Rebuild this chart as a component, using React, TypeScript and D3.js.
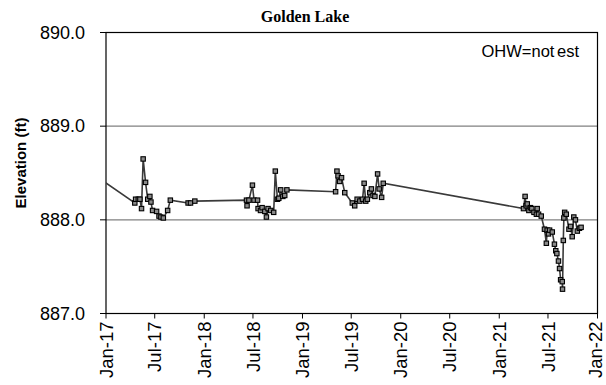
import React from "react";
import * as d3 from "d3";

// Lake elevation readings (ft), grouped by survey season.
const readings2017: [string, number][] = [
  ["2016-10-15", 888.55],
  ["2017-04-18", 888.18],
  ["2017-04-21", 888.22],
  ["2017-05-01", 888.22],
  ["2017-05-07", 888.22],
  ["2017-05-13", 888.12],
  ["2017-05-19", 888.65],
  ["2017-05-28", 888.4],
  ["2017-06-05", 888.22],
  ["2017-06-13", 888.25],
  ["2017-06-17", 888.19],
  ["2017-06-23", 888.1],
  ["2017-07-08", 888.09],
  ["2017-07-17", 888.04],
  ["2017-07-24", 888.03],
  ["2017-08-02", 888.02],
  ["2017-08-18", 888.1],
  ["2017-08-28", 888.21],
  ["2017-11-02", 888.18],
  ["2017-11-11", 888.18],
  ["2017-11-27", 888.2],
];

const readings2018: [string, number][] = [
  ["2018-06-07", 888.21],
  ["2018-06-09", 888.15],
  ["2018-06-16", 888.21],
  ["2018-06-29", 888.37],
  ["2018-07-05", 888.21],
  ["2018-07-18", 888.21],
  ["2018-07-20", 888.12],
  ["2018-07-29", 888.1],
  ["2018-08-04", 888.13],
  ["2018-08-14", 888.09],
  ["2018-08-20", 888.03],
  ["2018-08-26", 888.12],
  ["2018-09-05", 888.1],
  ["2018-09-16", 888.08],
  ["2018-09-22", 888.52],
  ["2018-09-30", 888.22],
  ["2018-10-05", 888.23],
  ["2018-10-12", 888.32],
  ["2018-10-20", 888.25],
  ["2018-10-27", 888.26],
  ["2018-11-04", 888.32],
];

const readings2019: [string, number][] = [
  ["2019-05-04", 888.3],
  ["2019-05-09", 888.52],
  ["2019-05-13", 888.47],
  ["2019-05-19", 888.41],
  ["2019-05-26", 888.45],
  ["2019-06-07", 888.29],
  ["2019-07-05", 888.18],
  ["2019-07-14", 888.15],
  ["2019-07-23", 888.22],
  ["2019-08-02", 888.2],
  ["2019-08-12", 888.22],
  ["2019-08-18", 888.39],
  ["2019-08-24", 888.2],
  ["2019-08-30", 888.22],
  ["2019-09-08", 888.29],
  ["2019-09-14", 888.33],
  ["2019-09-20", 888.26],
  ["2019-09-27", 888.25],
  ["2019-10-07", 888.49],
  ["2019-10-13", 888.33],
  ["2019-10-22", 888.24],
  ["2019-10-28", 888.39],
];

const readings2021: [string, number][] = [
  ["2021-04-01", 888.12],
  ["2021-04-07", 888.25],
  ["2021-04-11", 888.15],
  ["2021-04-15", 888.17],
  ["2021-04-21", 888.1],
  ["2021-04-27", 888.13],
  ["2021-05-02", 888.12],
  ["2021-05-10", 888.08],
  ["2021-05-19", 888.06],
  ["2021-05-22", 888.12],
  ["2021-05-27", 888.06],
  ["2021-06-06", 888.04],
  ["2021-06-18", 887.9],
  ["2021-06-25", 887.75],
  ["2021-06-28", 887.89],
  ["2021-07-03", 887.85],
  ["2021-07-07", 887.89],
  ["2021-07-17", 887.87],
  ["2021-07-25", 887.74],
  ["2021-07-30", 887.67],
  ["2021-08-03", 887.64],
  ["2021-08-09", 887.56],
  ["2021-08-13", 887.48],
  ["2021-08-17", 887.36],
  ["2021-08-23", 887.34],
  ["2021-08-24", 887.26],
  ["2021-08-27", 887.78],
  ["2021-08-29", 888.02],
  ["2021-09-01", 888.08],
  ["2021-09-07", 888.06],
  ["2021-09-17", 887.9],
  ["2021-09-23", 887.93],
  ["2021-09-29", 887.82],
  ["2021-10-05", 888.03],
  ["2021-10-11", 888.0],
  ["2021-10-18", 887.88],
  ["2021-10-26", 887.91],
  ["2021-11-01", 887.92],
];

const yTickValues = [887, 888, 889, 890];
const gridValues = [888, 889];
const titleText = "Golden Lake";
const yAxisTitle = "Elevation (ft)";
const noteText = "OHW=not est";

const W = 606;
const H = 385;
const plot = { left: 106, right: 597.5, top: 32.5, bottom: 313.5 };

const SANS = "'Liberation Sans', Arial, Helvetica, sans-serif";
const SERIF = "'Liberation Serif', 'Times New Roman', serif";
const X_FONT = 18.5;

export default function App() {
  const parse = d3.timeParse("%Y-%m-%d");
  const points = [...readings2017, ...readings2018, ...readings2019, ...readings2021].map(
    ([d, v]) => ({ date: parse(d) as Date, value: v })
  );

  const x = d3
    .scaleTime()
    .domain([new Date(2017, 0, 1), new Date(2022, 0, 1)])
    .range([plot.left, plot.right]);
  const y = d3.scaleLinear().domain([887, 890]).range([plot.bottom, plot.top]);

  const xTicks = x.ticks(d3.timeMonth.every(6) as d3.TimeInterval);
  const fmtX = d3.timeFormat("%b-%y");
  const fmtY = d3.format(".1f");

  const line = d3
    .line<{ date: Date; value: number }>()
    .x((d) => x(d.date))
    .y((d) => y(d.value));

  const ms = 4.4;
  // keep the rotated label's glyph box inside the svg
  const labelX = (t: Date) => Math.min(x(t), W - X_FONT * 0.57 - 0.5);

  return (
    <svg
      width={W}
      height={H}
      style={{ position: "absolute", left: 0, top: 0, background: "#fff" }}
    >
      <defs>
        <clipPath id="plot-clip">
          <rect
            x={plot.left}
            y={plot.top}
            width={plot.right - plot.left}
            height={plot.bottom - plot.top}
          />
        </clipPath>
      </defs>
      <rect width={W} height={H} fill="#fff" />

      {/* horizontal gridlines */}
      {gridValues.map((v) => (
        <line
          key={v}
          x1={plot.left}
          x2={plot.right}
          y1={y(v)}
          y2={y(v)}
          stroke="#808080"
          strokeWidth={1.2}
        />
      ))}

      {/* plot frame */}
      <rect
        x={plot.left}
        y={plot.top}
        width={plot.right - plot.left}
        height={plot.bottom - plot.top}
        fill="none"
        stroke="#000"
        strokeWidth={1.2}
      />

      {/* y axis ticks and labels */}
      {yTickValues.map((v) => (
        <g key={v}>
          <line x1={plot.left - 6} x2={plot.left} y1={y(v)} y2={y(v)} stroke="#000" strokeWidth={1} />
          <text
            x={plot.left - 21}
            y={y(v)}
            textAnchor="end"
            dominantBaseline="central"
            fontFamily={SANS}
            fontSize={18}
            fill="#000"
          >
            {fmtY(v)}
          </text>
        </g>
      ))}

      {/* x axis ticks and rotated labels, caps centred on each tick */}
      {xTicks.map((t) => (
        <g key={t.getTime()}>
          <line x1={x(t)} x2={x(t)} y1={plot.bottom} y2={plot.bottom + 5} stroke="#000" strokeWidth={1} />
          <text
            transform={`translate(${labelX(t)},${plot.bottom + 8}) rotate(-90)`}
            y={X_FONT * 0.36}
            textAnchor="end"
            fontFamily={SANS}
            fontSize={X_FONT}
            fill="#000"
          >
            {fmtX(t)}
          </text>
        </g>
      ))}

      {/* series */}
      <g clipPath="url(#plot-clip)">
        <path d={line(points) || ""} fill="none" stroke="#3a3a3a" strokeWidth={1.6} />
        {points.map((p, i) => (
          <rect
            key={i}
            x={x(p.date) - ms / 2}
            y={y(p.value) - ms / 2}
            width={ms}
            height={ms}
            fill="#8a8a8a"
            stroke="#000"
            strokeWidth={1.1}
          />
        ))}
      </g>

      {/* titles */}
      <text
        x={305}
        y={21.5}
        textAnchor="middle"
        fontFamily={SERIF}
        fontWeight="bold"
        fontSize={16}
        fill="#000"
      >
        {titleText}
      </text>
      <text
        transform={`translate(26,163) rotate(-90)`}
        textAnchor="middle"
        fontFamily={SANS}
        fontWeight="bold"
        fontSize={15}
        fill="#000"
      >
        {yAxisTitle}
      </text>
      <text
        x={579}
        y={57}
        textAnchor="end"
        fontFamily={SANS}
        fontSize={16.5}
        wordSpacing={-2}
        fill="#000"
      >
        {noteText}
      </text>
    </svg>
  );
}
